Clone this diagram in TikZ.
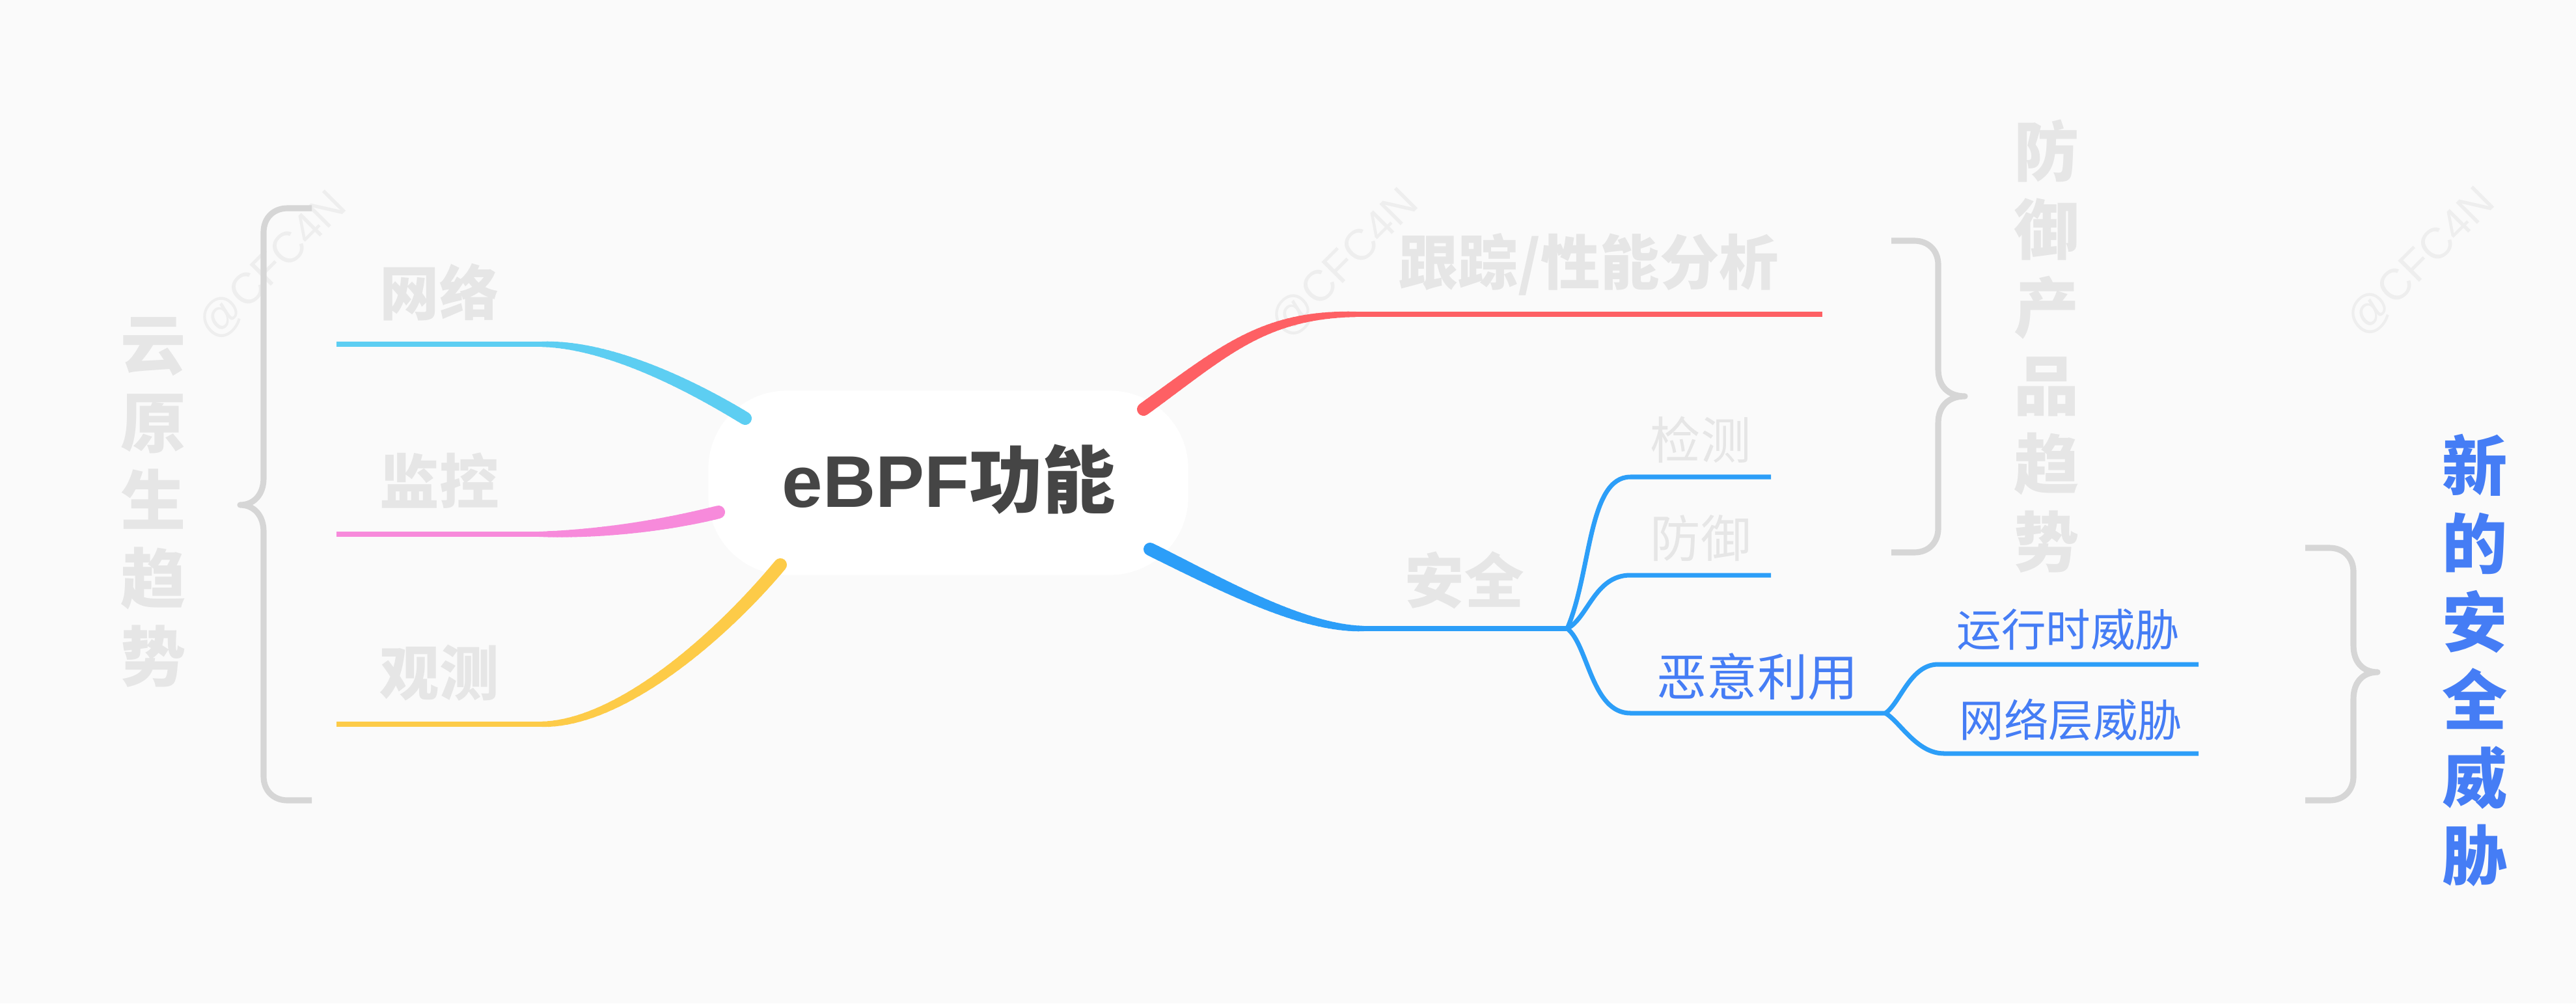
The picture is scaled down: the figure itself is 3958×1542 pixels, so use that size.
\documentclass[tikz,border=0pt]{standalone}
\usepackage{fontspec}
\setmainfont{Liberation Sans}
\newfontfamily\cjk{Noto Sans CJK SC}
\definecolor{bgc}{HTML}{FAFAFA}
\definecolor{cyanc}{HTML}{5DCEF2}
\definecolor{pinkc}{HTML}{F78ADB}
\definecolor{yellowc}{HTML}{FDCB48}
\definecolor{redc}{HTML}{FE6064}
\definecolor{bluec}{HTML}{2C9EF8}
\definecolor{txtblue}{HTML}{457DF5}
\definecolor{graytxt}{HTML}{E6E6E6}
\definecolor{bracec}{HTML}{D6D6D6}
\definecolor{ctrtxt}{HTML}{454545}
\definecolor{wmc}{HTML}{EEEEEE}
% tapered cubic curve: color, start width(px), end width(px), p0, c1, c2, p3
\newcommand\tapcurve[7]{%
  \begin{scope}
  \pgfsetstrokecolor{#1}\pgfsetroundcap
  \foreach \k in {0,...,39}{%
    \pgfmathsetmacro\ta{\k/40}%
    \pgfmathsetmacro\tb{(\k+1)/40}%
    \pgfmathsetmacro\ww{(#2-(#2-#3)*(\ta^1.5))*0.2845}%
    \pgfsetlinewidth{\ww pt}%
    \pgfpathmoveto{\pgfpointcurveattime{\ta}{#4}{#5}{#6}{#7}}%
    \pgfpathlineto{\pgfpointcurveattime{\tb}{#4}{#5}{#6}{#7}}%
    \pgfusepath{stroke}%
  }
  \end{scope}}
\newcommand\PA[1]{\pgfpointanchor{#1}{center}}
\begin{document}
\begin{tikzpicture}[x=0.01cm,y=-0.01cm,
  gtxt/.style={font=\cjk\bfseries\fontsize{26}{30}\selectfont, text=graytxt, inner sep=0pt},
  stxt/.style={font=\cjk\fontsize{22}{26}\selectfont, text=graytxt, inner sep=0pt},
  btxt/.style={font=\cjk\fontsize{22}{26}\selectfont, text=txtblue, inner sep=0pt},
  b2txt/.style={font=\cjk\fontsize{19.5}{23}\selectfont, text=txtblue, inner sep=0pt},
  vtitle/.style={font=\cjk\bfseries\fontsize{28.5}{34.1}\selectfont, text=graytxt, align=center, inner sep=0pt},
  brace/.style={draw=bracec, line width=2.6pt, line join=round},
  hline/.style={line width=2.3pt},
  subline/.style={draw=bluec, line width=2pt},
  wm/.style={font=\fontsize{19}{22}\selectfont, text=wmc, rotate=45, inner sep=0pt}]
\useasboundingbox (0,0) rectangle (3958,1542);
\fill[bgc] (0,0) rectangle (3958,1542);

% watermarks
\node[wm] (wm1) at (419,409) {@CFC4N};
\node[wm] (wm2) at (2066,405) {@CFC4N};
\node[wm] (wm3) at (3720,403) {@CFC4N};

% central blob
\node[fill=white, rounded corners=1.2cm, minimum width=7.37cm, minimum height=2.83cm, inner sep=0pt] (blob) at (1457,742) {};
\node[inner sep=0pt, text=ctrtxt, font=\bfseries\fontsize{32}{36}\selectfont] (ctr) at (1458,737) {eBPF{\cjk\bfseries 功能}};

% coordinates
\coordinate (cyS) at (1145,643); \coordinate (cyE) at (833,529); \coordinate (cyL) at (517,529);
\coordinate (pkS) at (1104,787); \coordinate (pkE) at (829,821); \coordinate (pkL) at (517,821);
\coordinate (ywS) at (1199,868); \coordinate (ywE) at (833,1113); \coordinate (ywL) at (517,1113);
\coordinate (rdS) at (1757,629); \coordinate (rdE) at (2083,483); \coordinate (rdR) at (2800,483);
\coordinate (blS) at (1767,844); \coordinate (blE) at (2095,966); \coordinate (J1) at (2408,966);
\coordinate (d1) at (2505,733); \coordinate (d1R) at (2721,733);
\coordinate (d2) at (2505,884); \coordinate (d2R) at (2721,884);
\coordinate (d3) at (2505,1096); \coordinate (J2) at (2897,1096);
\coordinate (e1) at (2978,1021); \coordinate (e1R) at (3378,1021);
\coordinate (e2) at (2987,1158); \coordinate (e2R) at (3378,1158);

% main branches
\tapcurve{cyanc}{20}{8}{\PA{cyS}}{\pgfpointxy{1050}{585}}{\pgfpointxy{930}{529}}{\PA{cyE}}
\draw[cyanc, hline] (cyE) -- (cyL);
\tapcurve{pinkc}{20}{8}{\PA{pkS}}{\pgfpointxy{1020}{808}}{\pgfpointxy{920}{821}}{\PA{pkE}}
\draw[pinkc, hline] (pkE) -- (pkL);
\tapcurve{yellowc}{20}{8}{\PA{ywS}}{\pgfpointxy{1110}{975}}{\pgfpointxy{955}{1112}}{\PA{ywE}}
\draw[yellowc, hline] (ywE) -- (ywL);
\tapcurve{redc}{20}{8}{\PA{rdS}}{\pgfpointxy{1880}{540}}{\pgfpointxy{1940}{483}}{\PA{rdE}}
\draw[redc, hline] (rdE) -- (rdR);
\tapcurve{bluec}{20}{8}{\PA{blS}}{\pgfpointxy{1880}{900}}{\pgfpointxy{2000}{966}}{\PA{blE}}
\draw[bluec, hline] (blE) -- (J1);

% sub branches
\draw[subline] (J1) .. controls (2445,880) and (2440,733) .. (d1) -- (d1R);
\draw[subline] (J1) .. controls (2440,950) and (2450,884) .. (d2) -- (d2R);
\draw[subline] (J1) .. controls (2440,990) and (2445,1096) .. (d3) -- (J2);
\draw[subline] (J2) .. controls (2920,1080) and (2935,1021) .. (e1) -- (e1R);
\draw[subline] (J2) .. controls (2920,1110) and (2945,1158) .. (e2) -- (e2R);

% braces
\draw[brace] (479,320) -- (442,320) .. controls (420,320) and (405,335) .. (405,357) -- (405,735)
  .. controls (405,760) and (390,776) .. (369,776) .. controls (390,776) and (405,792) .. (405,817)
  -- (405,1193) .. controls (405,1215) and (420,1230) .. (442,1230) -- (479,1230);
\draw[brace] (2906,370) -- (2941,370) .. controls (2963,370) and (2978,385) .. (2978,407) -- (2978,568)
  .. controls (2978,593) and (2993,609) .. (3019,609) .. controls (2993,609) and (2978,625) .. (2978,650)
  -- (2978,812) .. controls (2978,834) and (2963,849) .. (2941,849) -- (2906,849);
\draw[brace] (3542,842) -- (3579,842) .. controls (3601,842) and (3616,857) .. (3616,879) -- (3616,992)
  .. controls (3616,1017) and (3630,1033) .. (3653,1033) .. controls (3630,1033) and (3616,1049) .. (3616,1074)
  -- (3616,1193) .. controls (3616,1215) and (3601,1230) .. (3579,1230) -- (3542,1230);

% labels
\node[gtxt] (l1) at (675,449) {网络};
\node[gtxt] (l2) at (675,739) {监控};
\node[gtxt] (l3) at (675,1034) {观测};
\node[gtxt] (r1) at (2441,406) {跟踪/性能分析};
\node[gtxt] (r2) at (2250,892) {安全};
\node[stxt] (s1) at (2613,676) {检测};
\node[stxt] (s2) at (2613,827) {防御};
\node[btxt] (s3) at (2700,1040) {恶意利用};
\node[b2txt] (t1) at (3178,968) {运行时威胁};
\node[b2txt] (t2) at (3182,1106) {网络层威胁};

% vertical titles
\node[vtitle] (v1) at (236,772) {云\\原\\生\\趋\\势};
\node[vtitle] (v2) at (3145,532) {防\\御\\产\\品\\趋\\势};
\node[vtitle, text=txtblue] (v3) at (3803,1015) {新\\的\\安\\全\\威\\胁};
\end{tikzpicture}
\end{document}
